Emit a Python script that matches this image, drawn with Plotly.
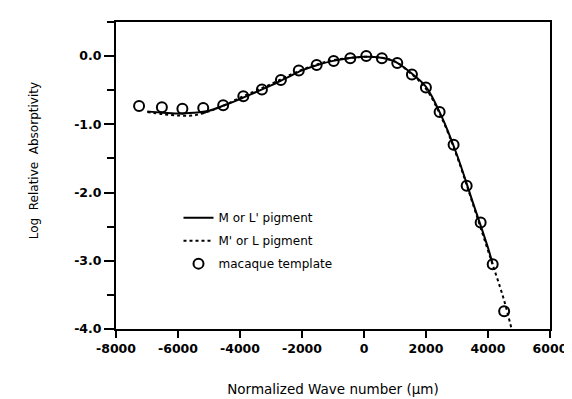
import plotly.graph_objects as go

# Data
circle_x = [-7256, -6520, -5858, -5186, -4543, -3893, -3293, -2681, -2104, -1527, -978, -442,
            73, 577, 1073, 1546, 1997, 2439, 2890, 3312, 3763, 4151, 4521]
circle_y = [-0.73, -0.75, -0.77, -0.76, -0.72, -0.59, -0.49, -0.35, -0.21, -0.13, -0.07, -0.03,
            0.00, -0.03, -0.10, -0.27, -0.46, -0.82, -1.30, -1.90, -2.44, -3.05, -3.74]

solid_x = [-6990, -6500, -6000, -5500, -5000, -4500, -4000, -3500, -3000, -2500, -2000, -1500,
           -1000, -500, 0, 500, 1000, 1500, 2000, 2500, 3000, 3500, 4000, 4150]
solid_y = [-0.81, -0.83, -0.84, -0.83, -0.80, -0.72, -0.63, -0.53, -0.43, -0.32, -0.21, -0.13,
           -0.07, -0.03, -0.01, -0.02, -0.08, -0.24, -0.45, -0.88, -1.45, -2.13, -2.81, -3.05]

dot_x = [-6990, -6500, -6000, -5500, -5000, -4500, -4000, -3500, -3000, -2500, -2000, -1500,
         -1000, -500, 0, 500, 1000, 1500, 2000, 2500, 3000, 3500, 4000, 4500, 4760]
dot_y = [-0.82, -0.85, -0.87, -0.87, -0.81, -0.72, -0.61, -0.51, -0.41, -0.30, -0.20, -0.12,
         -0.06, -0.03, -0.01, -0.02, -0.08, -0.25, -0.48, -0.90, -1.47, -2.15, -2.85, -3.55, -4.0]

x_ticks = [-8000, -6000, -4000, -2000, 0, 2000, 4000, 6000]
y_ticks = [0.0, -1.0, -2.0, -3.0, -4.0]
y_tick_labels = ["0.0", "-1.0", "-2.0", "-3.0", "-4.0"]

fig = go.Figure()
fig.add_trace(go.Scatter(x=solid_x, y=solid_y, mode="lines", name="M or L' pigment",
                         legendgroup="a", line=dict(color="black", width=2, shape="spline")))
fig.add_trace(go.Scatter(x=dot_x, y=dot_y, mode="lines", name="M' or L pigment",
                         legendgroup="b", line=dict(color="black", width=2, dash="dot", shape="spline")))
fig.add_trace(go.Scatter(x=circle_x, y=circle_y, mode="markers", name="macaque template",
                         legendgroup="c",
                         marker=dict(symbol="circle-open", size=10, color="black",
                                     line=dict(width=2, color="black"))))

fig.update_layout(
    width=572, height=399,
    margin=dict(l=108, r=20, t=12, b=70),
    paper_bgcolor="white", plot_bgcolor="white",
    font=dict(family="DejaVu Sans", color="black", size=12),
    showlegend=True,
    legend=dict(x=0.144, y=0.41, xanchor="left", yanchor="top",
                bgcolor="rgba(0,0,0,0)", font=dict(size=12),
                traceorder="grouped", tracegroupgap=4),
    xaxis=dict(range=[-8000, 6000], tickvals=x_ticks, ticktext=[str(v) for v in x_ticks],
               showgrid=False, zeroline=False, showline=True, linecolor="black", linewidth=2,
               mirror=True, ticks="outside", ticklen=7, tickwidth=1.5, tickcolor="black",
               tickfont=dict(family="DejaVu Sans", size=12.5, color="black", weight="bold"),
               title=dict(text="Normalized Wave number (µm)", font=dict(size=13.5), standoff=30)),
    yaxis=dict(range=[-4.0, 0.5], tickvals=y_ticks, ticktext=y_tick_labels,
               showgrid=False, zeroline=False, showline=True, linecolor="black", linewidth=2,
               mirror=True, ticks="outside", ticklen=10, tickwidth=1.5, tickcolor="black",
               minor=dict(dtick=0.5, tick0=0, ticks="outside", ticklen=7, tickwidth=1.5,
                          tickcolor="black", showgrid=False),
               tickfont=dict(family="DejaVu Sans", size=12.5, color="black", weight="bold")),
    annotations=[dict(text="Log  Relative  Absorptivity", textangle=-90, showarrow=False,
                      xref="paper", yref="paper", x=-0.187, y=0.549,
                      xanchor="center", yanchor="middle", font=dict(size=12))],
)

fig.write_html("out.html")
